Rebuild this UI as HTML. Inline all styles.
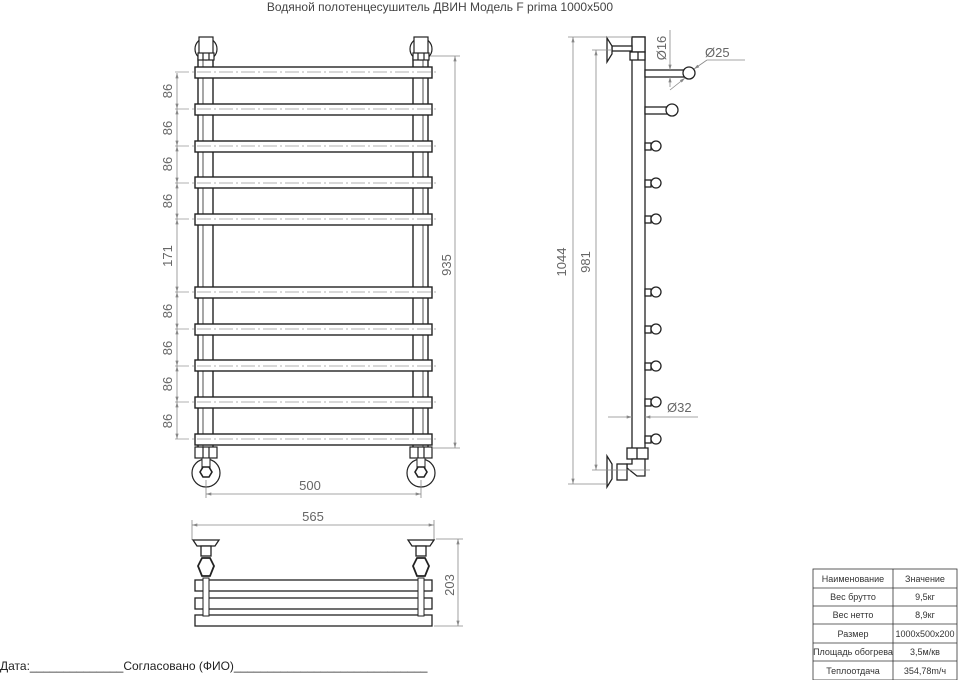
<!DOCTYPE html>
<html><head><meta charset="utf-8"><style>
html,body{margin:0;padding:0;background:#fff;}
svg{display:block;}
text{font-family:"Liberation Sans Narrow","Liberation Sans",sans-serif;}
</style></head><body>
<svg width="959" height="680" viewBox="0 0 959 680" xmlns="http://www.w3.org/2000/svg">
<defs>
<marker id="a" viewBox="0 0 10 6" refX="10" refY="3" markerWidth="8" markerHeight="4" orient="auto-start-reverse"><path d="M0,0L10,3L0,6z" fill="#888"/></marker>
</defs>
<text x="440" y="11" font-size="12" fill="#444" text-anchor="middle">Водяной полотенцесушитель ДВИН Модель F prima 1000x500</text>

<g stroke="#222" stroke-width="1.4" fill="#fff">
<rect x="198" y="58" width="15" height="390"/>
<rect x="413" y="58" width="15" height="390"/>
<line x1="203" y1="58" x2="203" y2="448" stroke-width="0.8"/>
<line x1="423" y1="58" x2="423" y2="448" stroke-width="0.8"/>
</g>
<g stroke="#222" stroke-width="1.4" fill="#fff">
<rect x="195" y="67" width="237" height="11"/>
<rect x="195" y="104" width="237" height="11"/>
<rect x="195" y="141" width="237" height="11"/>
<rect x="195" y="177" width="237" height="11"/>
<rect x="195" y="214" width="237" height="11"/>
<rect x="195" y="287" width="237" height="11"/>
<rect x="195" y="324" width="237" height="11"/>
<rect x="195" y="360" width="237" height="11"/>
<rect x="195" y="397" width="237" height="11"/>
<rect x="195" y="434" width="237" height="11"/>
</g>
<g stroke="#999" stroke-width="0.8" stroke-dasharray="14,3,2,3">
<line x1="175" y1="72" x2="438" y2="72"/><line x1="175" y1="109" x2="438" y2="109"/>
<line x1="175" y1="146" x2="438" y2="146"/><line x1="175" y1="183" x2="438" y2="183"/>
<line x1="175" y1="219" x2="438" y2="219"/><line x1="175" y1="292" x2="438" y2="292"/>
<line x1="175" y1="329" x2="438" y2="329"/><line x1="175" y1="366" x2="438" y2="366"/>
<line x1="175" y1="402" x2="438" y2="402"/><line x1="175" y1="439" x2="438" y2="439"/>
</g>
<g stroke="#222" stroke-width="1.2" fill="#fff">
<circle cx="206" cy="49" r="11"/><circle cx="421" cy="49" r="11"/>
<rect x="199" y="37" width="14" height="17"/><rect x="414" y="37" width="14" height="17"/>
<rect x="198" y="53" width="16" height="7"/><rect x="413" y="53" width="16" height="7"/>
<line x1="203" y1="53" x2="203" y2="60"/><line x1="209" y1="53" x2="209" y2="60"/>
<line x1="418" y1="53" x2="418" y2="60"/><line x1="424" y1="53" x2="424" y2="60"/>
</g>
<g stroke="#222" stroke-width="1.2" fill="#fff">
<circle cx="206" cy="473" r="14"/><circle cx="421" cy="473" r="14"/>
<rect x="195" y="447" width="22" height="11"/><rect x="410" y="447" width="22" height="11"/>
<line x1="203" y1="447" x2="203" y2="458"/><line x1="209" y1="447" x2="209" y2="458"/>
<line x1="418" y1="447" x2="418" y2="458"/><line x1="424" y1="447" x2="424" y2="458"/>
<rect x="202" y="458" width="8" height="10" stroke-width="1"/><rect x="417" y="458" width="8" height="10" stroke-width="1"/>
<polygon points="200,472 203,467 209,467 212,472 209,477 203,477" stroke-width="1.6"/>
<polygon points="415,472 418,467 424,467 427,472 424,477 418,477" stroke-width="1.6"/>
</g>
<g stroke="#888" stroke-width="0.8" fill="none">
<line x1="177" y1="73" x2="177" y2="109" marker-start="url(#a)" marker-end="url(#a)"/>
<line x1="177" y1="109" x2="177" y2="146" marker-start="url(#a)" marker-end="url(#a)"/>
<line x1="177" y1="146" x2="177" y2="183" marker-start="url(#a)" marker-end="url(#a)"/>
<line x1="177" y1="183" x2="177" y2="219" marker-start="url(#a)" marker-end="url(#a)"/>
<line x1="177" y1="219" x2="177" y2="292" marker-start="url(#a)" marker-end="url(#a)"/>
<line x1="177" y1="292" x2="177" y2="329" marker-start="url(#a)" marker-end="url(#a)"/>
<line x1="177" y1="329" x2="177" y2="366" marker-start="url(#a)" marker-end="url(#a)"/>
<line x1="177" y1="366" x2="177" y2="402" marker-start="url(#a)" marker-end="url(#a)"/>
<line x1="177" y1="402" x2="177" y2="439" marker-start="url(#a)" marker-end="url(#a)"/>
<line x1="430" y1="56" x2="460" y2="56"/><line x1="432" y1="448" x2="460" y2="448"/>
<line x1="455" y1="56" x2="455" y2="448" marker-start="url(#a)" marker-end="url(#a)"/>
<line x1="206" y1="480" x2="206" y2="498"/><line x1="421" y1="480" x2="421" y2="498"/>
<line x1="206" y1="494" x2="421" y2="494" marker-start="url(#a)" marker-end="url(#a)"/>
<line x1="192" y1="520" x2="192" y2="540"/><line x1="434" y1="520" x2="434" y2="540"/>
<line x1="192" y1="525" x2="434" y2="525" marker-start="url(#a)" marker-end="url(#a)"/>
<line x1="436" y1="539" x2="463" y2="539"/><line x1="434" y1="626" x2="463" y2="626"/>
<line x1="458" y1="539" x2="458" y2="626" marker-start="url(#a)" marker-end="url(#a)"/>
</g>
<g fill="#666" font-size="13">
<text transform="translate(172,91) rotate(-90)" text-anchor="middle">86</text>
<text transform="translate(172,128) rotate(-90)" text-anchor="middle">86</text>
<text transform="translate(172,164) rotate(-90)" text-anchor="middle">86</text>
<text transform="translate(172,201) rotate(-90)" text-anchor="middle">86</text>
<text transform="translate(172,256) rotate(-90)" text-anchor="middle">171</text>
<text transform="translate(172,311) rotate(-90)" text-anchor="middle">86</text>
<text transform="translate(172,348) rotate(-90)" text-anchor="middle">86</text>
<text transform="translate(172,384) rotate(-90)" text-anchor="middle">86</text>
<text transform="translate(172,421) rotate(-90)" text-anchor="middle">86</text>
<text transform="translate(451,265) rotate(-90)" text-anchor="middle">935</text>
<text x="310" y="490" text-anchor="middle">500</text>
<text x="313" y="521" text-anchor="middle">565</text>
<text transform="translate(454,585) rotate(-90)" text-anchor="middle">203</text>
</g>

<g stroke="#222" stroke-width="1.3" fill="#fff">
<rect x="195" y="580" width="237" height="11"/>
<rect x="195" y="598" width="237" height="11"/>
<rect x="195" y="615" width="237" height="11"/>
<rect x="203" y="578" width="6" height="38" stroke-width="1"/>
<rect x="418" y="578" width="6" height="38" stroke-width="1"/>
<polygon points="193,540 219,540 215,546 197,546"/><polygon points="408,540 434,540 430,546 412,546"/>
<rect x="201" y="546" width="10" height="10"/><rect x="416" y="546" width="10" height="10"/>
<polygon points="198,566 202,558 210,558 214,566 210,576 202,576" stroke-width="1.8"/>
<polygon points="413,566 417,558 425,558 429,566 425,576 417,576" stroke-width="1.8"/>
</g>

<g stroke="#222" stroke-width="1.3" fill="#fff">
<rect x="632" y="37" width="13" height="412"/>
<rect x="632" y="37" width="13" height="15"/>
<rect x="630" y="52" width="15" height="8"/>
<line x1="638" y1="52" x2="638" y2="60"/>
<rect x="612" y="46" width="20" height="5"/>
<polygon points="607,38 607,62 612,54 612,46"/>
<rect x="645" y="70" width="40" height="7"/><circle cx="689" cy="73" r="6"/>
<rect x="645" y="107" width="22" height="7"/><circle cx="672" cy="110" r="6"/>
<rect x="645" y="143" width="6" height="7"/><circle cx="656" cy="146" r="5"/>
<rect x="645" y="180" width="6" height="7"/><circle cx="656" cy="183" r="5"/>
<rect x="645" y="216" width="6" height="7"/><circle cx="656" cy="219" r="5"/>
<rect x="645" y="289" width="6" height="7"/><circle cx="656" cy="292" r="5"/>
<rect x="645" y="326" width="6" height="7"/><circle cx="656" cy="329" r="5"/>
<rect x="645" y="363" width="6" height="7"/><circle cx="656" cy="366" r="5"/>
<rect x="645" y="399" width="6" height="7"/><circle cx="656" cy="402" r="5"/>
<rect x="645" y="436" width="6" height="7"/><circle cx="656" cy="439" r="5"/>
<rect x="627" y="448" width="21" height="11"/><line x1="637" y1="448" x2="637" y2="459"/>
<path d="M632,459 L645,459 L645,476 L637,476 L627,468 L627,464 L632,464 Z"/>
<rect x="617" y="464" width="10" height="16"/>
<polygon points="607,456 607,487 612,479 612,464"/>
</g>
<g stroke="#888" stroke-width="0.8" fill="none">
<line x1="568" y1="37" x2="632" y2="37"/><line x1="568" y1="484" x2="607" y2="484"/>
<line x1="573" y1="37" x2="573" y2="484" marker-start="url(#a)" marker-end="url(#a)"/>
<line x1="592" y1="50" x2="612" y2="50"/><line x1="592" y1="470" x2="650" y2="470"/>
<line x1="596" y1="50" x2="596" y2="470" marker-start="url(#a)" marker-end="url(#a)"/>
<line x1="670" y1="30" x2="670" y2="60"/>
<line x1="670" y1="60" x2="670" y2="70" marker-end="url(#a)"/>
<line x1="670" y1="87" x2="670" y2="77" marker-end="url(#a)"/>
<line x1="670" y1="90" x2="685" y2="78" marker-end="url(#a)"/>
<line x1="707" y1="60" x2="694" y2="69" marker-end="url(#a)"/>
<line x1="707" y1="60" x2="745" y2="60"/>
<line x1="608" y1="417" x2="632" y2="417" marker-end="url(#a)"/>
<line x1="698" y1="417" x2="645" y2="417" marker-end="url(#a)"/>
</g>
<g fill="#666" font-size="13">
<text transform="translate(566,262) rotate(-90)" text-anchor="middle">1044</text>
<text transform="translate(590,262) rotate(-90)" text-anchor="middle">981</text>
<text transform="translate(666,48) rotate(-90)" text-anchor="middle">Ø16</text>
<text x="705" y="57">Ø25</text>
<text x="667" y="412">Ø32</text>
</g>

<g stroke="#333" stroke-width="0.8" fill="none">
<rect x="813" y="569" width="144" height="111"/>
<line x1="893" y1="569" x2="893" y2="680"/>
<line x1="813" y1="588" x2="957" y2="588"/><line x1="813" y1="606" x2="957" y2="606"/>
<line x1="813" y1="624" x2="957" y2="624"/><line x1="813" y1="643" x2="957" y2="643"/>
<line x1="813" y1="661" x2="957" y2="661"/>
</g>
<g fill="#333" font-size="9" text-anchor="middle">
<text x="853" y="582">Наименование</text><text x="925" y="582">Значение</text>
<text x="853" y="600">Вес брутто</text><text x="925" y="600">9,5кг</text>
<text x="853" y="618">Вес нетто</text><text x="925" y="618">8,9кг</text>
<text x="853" y="637">Размер</text><text x="925" y="637">1000x500x200</text>
<text x="853" y="655">Площадь обогрева</text><text x="925" y="655">3,5м/кв</text>
<text x="853" y="674">Теплоотдача</text><text x="925" y="674">354,78m/ч</text>
</g>
<text x="0" y="670" font-size="12" fill="#222">Дата:______________Согласовано (ФИО)_____________________________</text>
</svg>
</body></html>
